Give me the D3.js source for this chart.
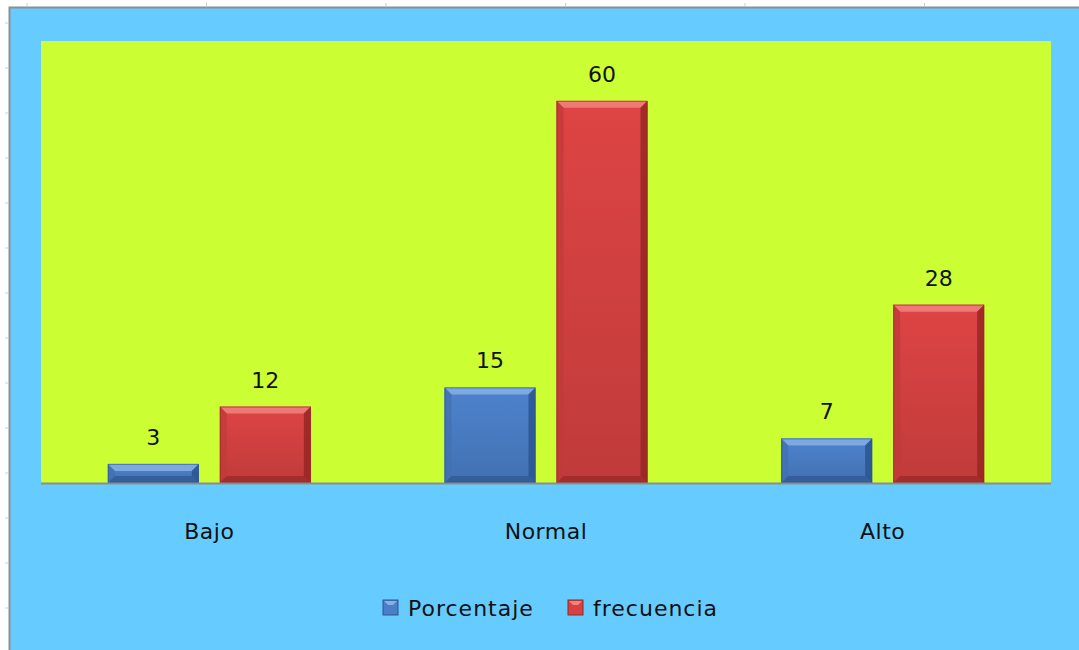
<!DOCTYPE html>
<html>
<head>
<meta charset="utf-8">
<script src="https://cdn.jsdelivr.net/npm/d3@7"></script>
<style>
  body { margin: 0; background: #fff; }
  svg { display: block; }
  text { font-family: "DejaVu Sans", sans-serif; fill: #111; }
</style>
</head>
<body>
<div id="chart"></div>
<script>
const w = 1079;
const h = 650;

// data
const categories = ["Bajo", "Normal", "Alto"];
const seriesNames = ["Porcentaje", "frecuencia"];
const porcentaje = [3, 15, 7];
const frecuencia = [12, 60, 28];

const colors = {
  Porcentaje: { base: "#4a7ec6", light: "#86b0e6", dark: "#2c5590" },
  frecuencia: { base: "#d64242", light: "#f28282", dark: "#962626" }
};

const plot = { left: 41, right: 1051, top: 41, bottom: 483 };

const svg = d3.select("#chart").append("svg")
  .attr("width", w)
  .attr("height", h);

// outer chart area
svg.append("rect")
  .attr("x", 9).attr("y", 7)
  .attr("width", w - 9).attr("height", h - 7)
  .attr("fill", "#66ccff");
svg.append("path")
  .attr("d", `M9.5,${h}V7.5H${w}`)
  .attr("fill", "none")
  .attr("stroke", "#8a8f94")
  .attr("stroke-width", 2);

// spreadsheet tick marks along edges
svg.selectAll(".ltick")
  .data(d3.range(23, h, 45))
  .enter().append("line")
  .attr("x1", 5).attr("x2", 8)
  .attr("y1", d => d).attr("y2", d => d)
  .attr("stroke", "#c8cbe0");
svg.selectAll(".ttick")
  .data(d3.range(27, w, 179.5))
  .enter().append("line")
  .attr("x1", d => d).attr("x2", d => d)
  .attr("y1", 3).attr("y2", 6)
  .attr("stroke", "#c8cbe0");

// plot area
svg.append("rect")
  .attr("x", plot.left).attr("y", plot.top)
  .attr("width", plot.right - plot.left)
  .attr("height", plot.bottom - plot.top)
  .attr("fill", "#ccff33");

let x0 = d3.scaleBand()
  .domain(categories)
  .range([plot.left, plot.right]);

let groupW = 203;
let x1 = d3.scaleBand()
  .domain(seriesNames)
  .range([(x0.bandwidth() - groupW) / 2, (x0.bandwidth() + groupW) / 2])
  .paddingInner(0.1875)
  .paddingOuter(0);

let y = d3.scaleLinear()
  .domain([0, 69.4])
  .range([plot.bottom, plot.top]);

let rows = [];
categories.forEach((c, i) => {
  rows.push({ cat: c, series: "Porcentaje", value: porcentaje[i] });
  rows.push({ cat: c, series: "frecuencia", value: frecuencia[i] });
});

// gradients
let defs = svg.append("defs");
seriesNames.forEach(s => {
  let g = defs.append("linearGradient")
    .attr("id", "g-" + s)
    .attr("x1", 0).attr("x2", 0).attr("y1", 0).attr("y2", 1);
  g.append("stop").attr("offset", "0%").attr("stop-color", d3.color(colors[s].base).brighter(0.1));
  g.append("stop").attr("offset", "100%").attr("stop-color", d3.color(colors[s].base).darker(0.3));
});

let bevel = 7;
let bars = svg.selectAll(".bar")
  .data(rows)
  .enter().append("g")
  .attr("class", "bar");

bars.each(function (d) {
  let g = d3.select(this);
  let bx = x0(d.cat) + x1(d.series);
  let bw = x1.bandwidth();
  let by = y(d.value);
  let bh = y(0) - by;
  let b = Math.min(bevel, bh / 2);
  let c = colors[d.series];
  g.append("rect")
    .attr("x", bx).attr("y", by)
    .attr("width", bw).attr("height", bh)
    .attr("fill", `url(#g-${d.series})`);
  // top bevel
  g.append("path")
    .attr("d", `M${bx},${by}H${bx + bw}L${bx + bw - b},${by + b}H${bx + b}Z`)
    .attr("fill", c.light).attr("opacity", 0.85);
  // left bevel
  g.append("path")
    .attr("d", `M${bx},${by}L${bx + b},${by + b}V${by + bh - b}L${bx},${by + bh}Z`)
    .attr("fill", d3.color(c.base).darker(0.3)).attr("opacity", 0.8);
  // right bevel
  g.append("path")
    .attr("d", `M${bx + bw},${by}L${bx + bw - b},${by + b}V${by + bh - b}L${bx + bw},${by + bh}Z`)
    .attr("fill", c.dark).attr("opacity", 0.85);
  // bottom bevel
  g.append("path")
    .attr("d", `M${bx},${by + bh}L${bx + b},${by + bh - b}H${bx + bw - b}L${bx + bw},${by + bh}Z`)
    .attr("fill", c.dark).attr("opacity", 0.7);
  g.append("rect")
    .attr("x", bx + 0.5).attr("y", by + 0.5)
    .attr("width", bw - 1).attr("height", bh - 1)
    .attr("fill", "none")
    .attr("stroke", c.dark).attr("stroke-opacity", 0.6);
});

// value labels
svg.selectAll(".lbl")
  .data(rows)
  .enter().append("text")
  .attr("x", d => x0(d.cat) + x1(d.series) + x1.bandwidth() / 2)
  .attr("y", d => y(d.value) - 19)
  .attr("text-anchor", "middle")
  .attr("font-size", 22)
  .text(d => d.value);

// baseline
svg.append("line")
  .attr("x1", plot.left).attr("x2", plot.right)
  .attr("y1", plot.bottom + 0.5).attr("y2", plot.bottom + 0.5)
  .attr("stroke", "#8c8c8c")
  .attr("stroke-width", 2);

// category labels
let xAxis = svg.append("g")
  .attr("transform", `translate(0,${plot.bottom})`)
  .call(d3.axisBottom(x0).tickSize(0).tickPadding(0));
xAxis.select(".domain").remove();
xAxis.selectAll("text")
  .attr("y", 56)
  .attr("dy", 0)
  .attr("font-size", 22)
  .attr("letter-spacing", 0.5)
  .attr("font-family", "\"DejaVu Sans\", sans-serif")
  .attr("fill", "#111");

// legend
let legendX = [383, 568];
let legend = svg.selectAll(".leg")
  .data(seriesNames)
  .enter().append("g")
  .attr("transform", (d, i) => `translate(${legendX[i]},600)`);
legend.append("rect")
  .attr("width", 15).attr("height", 15)
  .attr("fill", d => colors[d].base)
  .attr("stroke", d => colors[d].dark);
legend.append("path")
  .attr("d", "M1,1H14L10,5H5Z")
  .attr("fill", d => colors[d].light);
legend.append("text")
  .attr("x", 25).attr("y", 16)
  .attr("font-size", 22)
  .attr("letter-spacing", 1)
  .text(d => d);
</script>
</body>
</html>
